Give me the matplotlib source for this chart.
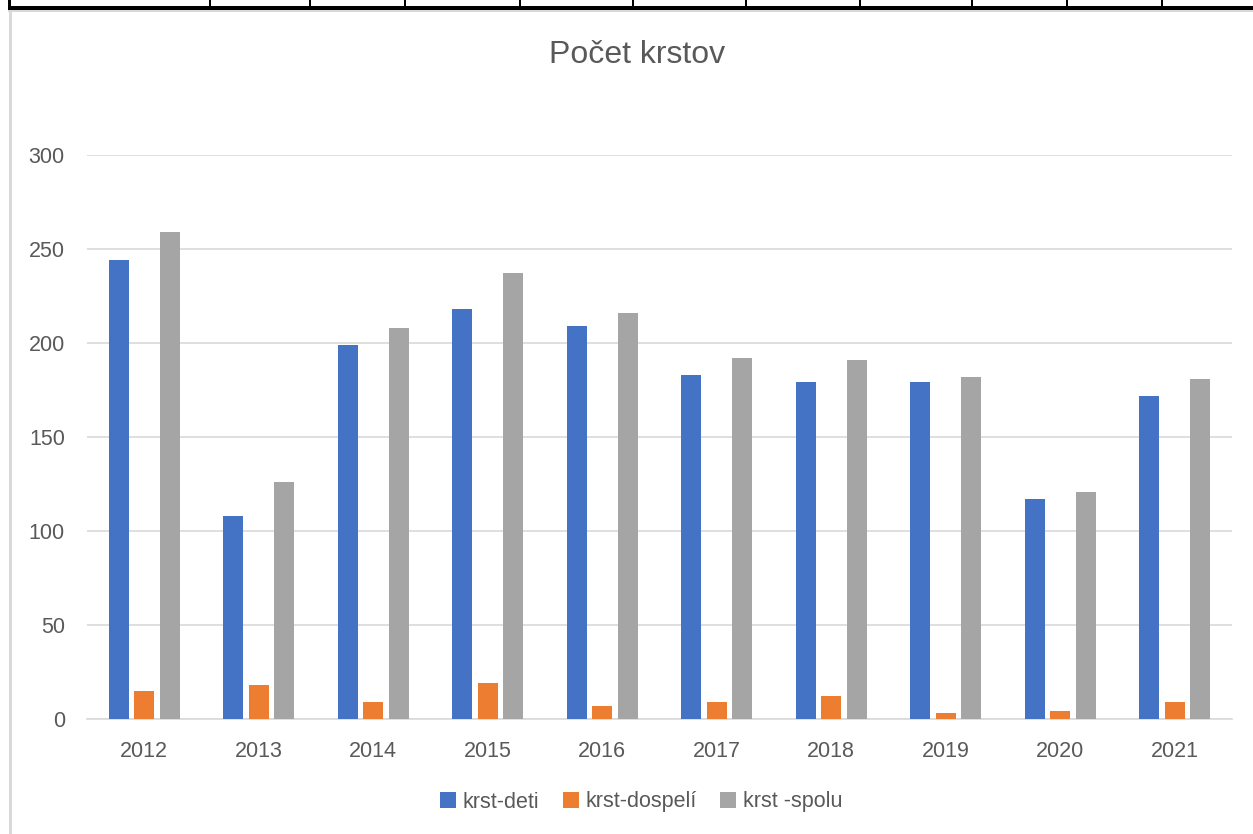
import numpy as np
import matplotlib.pyplot as plt
from matplotlib.patches import Rectangle

plt.rcParams['font.family'] = ['Liberation Sans', 'DejaVu Sans']

# Data
years = ["2012", "2013", "2014", "2015", "2016", "2017", "2018", "2019", "2020", "2021"]
deti = [244, 108, 199, 218, 209, 183, 179, 179, 117, 172]
dospeli = [15, 18, 9, 19, 7, 9, 12, 3, 4, 9]
spolu = [259, 126, 208, 237, 216, 192, 191, 182, 121, 181]

series = ["krst-deti", "krst-dospelí", "krst -spolu"]
colors = ["#4472C4", "#ED7D31", "#A5A5A5"]

W, H = 1253, 834
fig = plt.figure(figsize=(W / 100, H / 100), dpi=100)

# spreadsheet frame behind the chart (pixel coords)
bg = fig.add_axes([0, 0, 1, 1], zorder=-1)
bg.set_xlim(0, W)
bg.set_ylim(H, 0)
bg.axis("off")
bg.add_patch(Rectangle((8, 6), W - 8, 4, color="black", lw=0))
bg.add_patch(Rectangle((8, 0), 3, 10, color="black", lw=0))
for xv in [210, 310, 405, 520, 633, 746, 860, 972, 1067, 1162]:
    bg.add_patch(Rectangle((xv - 1, 0), 2, 7, color="black", lw=0))
bg.add_patch(Rectangle((8, 10), W - 8, 1.5, color="#d9d9d9", lw=0))
bg.add_patch(Rectangle((9, 11), 2.5, H - 11, color="#d9d9d9", lw=0))

# chart
ax = fig.add_axes([87 / W, (H - 719) / H, (1232 - 87) / W, (719 - 155) / H])
x = np.arange(len(years))
width = 0.175
step = 0.223
for i, (vals, name, c) in enumerate(zip([deti, dospeli, spolu], series, colors)):
    ax.bar(x + (i - 1) * step, vals, width, color=c, label=name, zorder=3)

ax.set_xlim(-0.5, len(years) - 0.5)
ax.set_ylim(0, 300)
ax.set_yticks(np.arange(0, 301, 50))
ax.set_xticks(x)
ax.set_xticklabels(years)
ax.tick_params(axis="both", length=0, labelsize=15.5, labelcolor="#595959")
ax.tick_params(axis="y", pad=16)
ax.tick_params(axis="x", pad=16)
ax.grid(axis="y", color="#d9d9d9", linewidth=1.2, zorder=0)
for s in ["top", "left", "right"]:
    ax.spines[s].set_visible(False)
ax.spines["bottom"].set_color("#d9d9d9")
ax.spines["bottom"].set_linewidth(1.2)

fig.text(637 / W, 1 - 55 / H, "Počet krstov", ha="center", va="center",
         fontsize=23, color="#595959")

fig.legend(loc="center", bbox_to_anchor=(641 / W, 1 - 802 / H), ncol=3,
           frameon=False, fontsize=15.5, labelcolor="#595959",
           handlelength=0.75, handleheight=0.75, handletextpad=0.3,
           columnspacing=1.1)

fig.savefig("out.png", dpi=100)
